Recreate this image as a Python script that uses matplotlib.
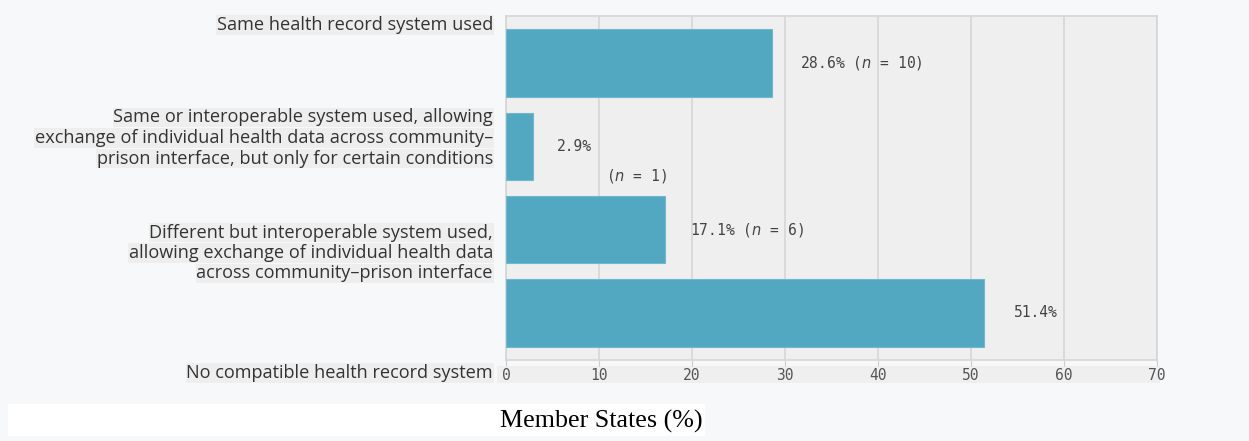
import matplotlib.pyplot as plt

# Share of Member States by type of health record system
categories = [
    "Same health record system used",
    "Same or interoperable system used, allowing\nexchange of individual health data across community\u2013\nprison interface, but only for certain conditions",
    "Different but interoperable system used,\nallowing exchange of individual health data\nacross community\u2013prison interface",
    "No compatible health record system",
]
percent = [28.6, 2.9, 17.1, 51.4]
counts = [10, 1, 6, None]
xticks = [0, 10, 20, 30, 40, 50, 60, 70]

W, H = 1249, 441
fig = plt.figure(figsize=(W / 100, H / 100), dpi=100)
fig.patch.set_facecolor("#f7f8fa")

ax = fig.add_axes([506 / W, 1 - 360 / H, (1157 - 506) / W, (360 - 16) / H])
ax.set_facecolor("#efefef")

ypos = list(range(len(categories)))
ax.barh(ypos, percent, height=0.81, color="#53a8c1", edgecolor="#6fb8cd", linewidth=0.8, zorder=3)

ax.set_xlim(0, 70)
ax.set_ylim(3.566, -0.566)
ax.set_xticks(xticks)
ax.set_xticklabels([str(t) for t in xticks], fontsize=10.5, color="#555555", family="DejaVu Sans Mono")
ax.set_yticks([])
ax.tick_params(axis="x", length=4, color="#cccccc", pad=2)
ax.grid(axis="x", color="#d6d6d6", linewidth=1.2, zorder=1)
for s in ax.spines.values():
    s.set_color("#d6d6d6")
    s.set_linewidth(1.2)

# light band behind tick labels
fig.patches.append(plt.Rectangle((497 / W, 1 - 383 / H), (1160 - 497) / W, 17 / H,
                                 transform=fig.transFigure, facecolor="#efefef",
                                 edgecolor="none", zorder=-1))

# value labels
lab_style = dict(fontsize=10.5, color="#444444", family="DejaVu Sans Mono", va="center", zorder=4)
ax.text(percent[0] + 3.0, 0, f"{percent[0]}% ($n$ = {counts[0]})", **lab_style)
ax.text(percent[1] + 2.6, 1.0, f"{percent[1]}%", **lab_style)
ax.text(percent[1] + 7.9, 1.35, f"($n$ = {counts[1]})", **lab_style)
ax.text(percent[2] + 2.7, 2.0, f"{percent[2]}% ($n$ = {counts[2]})", **lab_style)
ax.text(percent[3] + 3.2, 3.0, f"{percent[3]}%", **lab_style)

# category labels, each line on its own grey strip
label_y = [25, 138, 253, 373]
line_gap = 20.5
for text, yc in zip(categories, label_y):
    lines = text.split("\n")
    n = len(lines)
    for i, line in enumerate(lines):
        y = yc + (i - (n - 1) / 2) * line_gap
        fig.text(493 / W, 1 - y / H, line, ha="right", va="center",
                 fontsize=13.1, color="#333333", family="Open Sans",
                 bbox=dict(facecolor="#eeeeee", edgecolor="none", pad=0.5))

# axis title in a white strip
fig.patches.append(plt.Rectangle((8 / W, 1 - 436 / H), (705 - 8) / W, 32 / H,
                                 transform=fig.transFigure, facecolor="white",
                                 edgecolor="none", zorder=-1))
fig.text(601 / W, 1 - 421 / H, "Member States (%)", ha="center", va="center",
         fontsize=18.7, color="black", family="Liberation Serif")

fig.savefig("out.png", dpi=100, facecolor=fig.get_facecolor())
